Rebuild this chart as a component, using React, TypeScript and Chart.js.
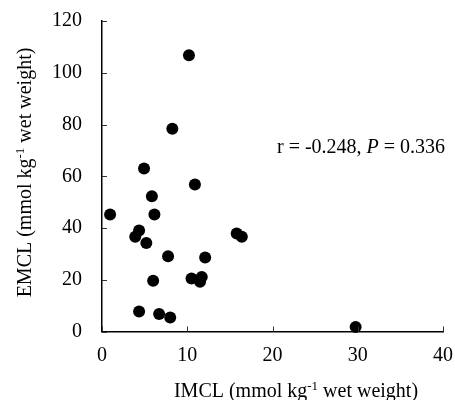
import React, { useEffect, useRef } from "react";
import { Chart, registerables } from "chart.js";

Chart.register(...registerables);

const imclValues = [10.2, 8.25, 4.93, 10.9, 5.85, 0.95, 6.15, 4.35, 3.9, 5.2, 15.8, 16.4, 7.75, 12.1, 6.0, 10.5, 11.7, 11.5, 4.35, 6.7, 8.0, 29.75];
const emclValues = [106.8, 78.4, 63.0, 56.8, 52.3, 45.2, 45.2, 39.0, 36.6, 34.2, 37.9, 36.6, 29.1, 28.6, 19.6, 20.5, 21.1, 19.2, 7.7, 6.8, 5.4, 1.7];
const xTicks = [0, 10, 20, 30, 40];
const yTicks = [0, 20, 40, 60, 80, 100, 120];
const xTitleParts = ["IMCL (mmol kg", "-1", " wet weight)"];
const yTitleParts = ["EMCL (mmol kg", "-1", " wet weight)"];
const annotationParts = ["r = -0.248, ", "P", " = 0.336"];

const FONT = "'Liberation Serif', 'Times New Roman', serif";

function drawSupText(ctx: CanvasRenderingContext2D, parts: string[], cx: number, baseY: number) {
  const main = `20px ${FONT}`;
  const sup = `13px ${FONT}`;
  ctx.font = main;
  const w0 = ctx.measureText(parts[0]).width;
  const w2 = ctx.measureText(parts[2]).width;
  ctx.font = sup;
  const w1 = ctx.measureText(parts[1]).width;
  const total = w0 + w1 + w2;
  let x = cx - total / 2;
  ctx.textAlign = "left";
  ctx.textBaseline = "alphabetic";
  ctx.font = main;
  ctx.fillText(parts[0], x, baseY);
  x += w0;
  ctx.font = sup;
  ctx.fillText(parts[1], x, baseY - 7);
  x += w1;
  ctx.font = main;
  ctx.fillText(parts[2], x, baseY);
}

const decorPlugin = {
  id: "decor",
  afterDraw(chart: any) {
    const ctx: CanvasRenderingContext2D = chart.ctx;
    const xs = chart.scales.x;
    const ys = chart.scales.y;
    const area = chart.chartArea;
    ctx.save();
    ctx.strokeStyle = "#333";
    ctx.lineWidth = 1;
    for (const v of yTicks) {
      const py = Math.round(ys.getPixelForValue(v)) + 0.5;
      ctx.beginPath();
      ctx.moveTo(area.left, py);
      ctx.lineTo(area.left + 5, py);
      ctx.stroke();
    }
    for (const v of xTicks) {
      const px = Math.round(xs.getPixelForValue(v)) + 0.5;
      ctx.beginPath();
      ctx.moveTo(px, area.bottom);
      ctx.lineTo(px, area.bottom - 5);
      ctx.stroke();
    }
    ctx.fillStyle = "#000";
    // x title
    drawSupText(ctx, xTitleParts, 296, 396.5);
    // y title
    ctx.save();
    ctx.translate(31, 172.5);
    ctx.rotate(-Math.PI / 2);
    drawSupText(ctx, yTitleParts, 0, 0);
    ctx.restore();
    // annotation
    ctx.textAlign = "left";
    ctx.textBaseline = "alphabetic";
    let ax = 277;
    const ay = 153;
    ctx.font = `20px ${FONT}`;
    ctx.fillText(annotationParts[0], ax, ay);
    ax += ctx.measureText(annotationParts[0]).width;
    ctx.font = `italic 20px ${FONT}`;
    ctx.fillText(annotationParts[1], ax, ay);
    ax += ctx.measureText(annotationParts[1]).width;
    ctx.font = `20px ${FONT}`;
    ctx.fillText(annotationParts[2], ax, ay);
    ctx.restore();
  },
};

export default function App() {
  const canvasRef = useRef<HTMLCanvasElement | null>(null);

  useEffect(() => {
    const canvas = canvasRef.current;
    if (!canvas) return;
    const points = imclValues.map((x, i) => ({ x, y: emclValues[i] }));
    const chart = new Chart(canvas, {
      type: "scatter",
      data: {
        datasets: [
          {
            data: points,
            backgroundColor: "#000",
            borderColor: "#000",
            borderWidth: 0,
            pointRadius: 6,
            pointHoverRadius: 6,
            clip: false,
          } as any,
        ],
      },
      options: {
        animation: false,
        responsive: true,
        maintainAspectRatio: false,
        layout: { autoPadding: false, padding: { left: 0, right: 12, top: 21, bottom: 0 } },
        plugins: { legend: { display: false }, tooltip: { enabled: false } },
        scales: {
          x: {
            type: "linear",
            min: 0,
            max: 40,
            afterFit: (s: any) => {
              s.height = 68.5;
              s.paddingLeft = 0;
              s.paddingRight = 0;
            },
            afterBuildTicks: (s: any) => {
              s.ticks = xTicks.map((v) => ({ value: v }));
            },
            grid: { display: false, drawTicks: false },
            border: { display: true, color: "#000", width: 1.5 },
            ticks: {
              color: "#000",
              font: { family: FONT, size: 20 },
              padding: 12,
              maxRotation: 0,
            },
          },
          y: {
            type: "linear",
            min: 0,
            max: 120,
            afterFit: (s: any) => {
              s.width = 102;
              s.paddingTop = 0;
              s.paddingBottom = 0;
            },
            afterBuildTicks: (s: any) => {
              s.ticks = yTicks.map((v) => ({ value: v }));
            },
            grid: { display: false, drawTicks: false },
            border: { display: true, color: "#000", width: 1.5 },
            ticks: {
              color: "#000",
              font: { family: FONT, size: 20 },
              padding: 20,
            },
          },
        },
      },
      plugins: [decorPlugin],
    });
    return () => chart.destroy();
  }, []);

  return (
    <div style={{ position: "fixed", left: 0, top: 0, width: 455, height: 400, background: "#fff" }}>
      <canvas ref={canvasRef} />
    </div>
  );
}
